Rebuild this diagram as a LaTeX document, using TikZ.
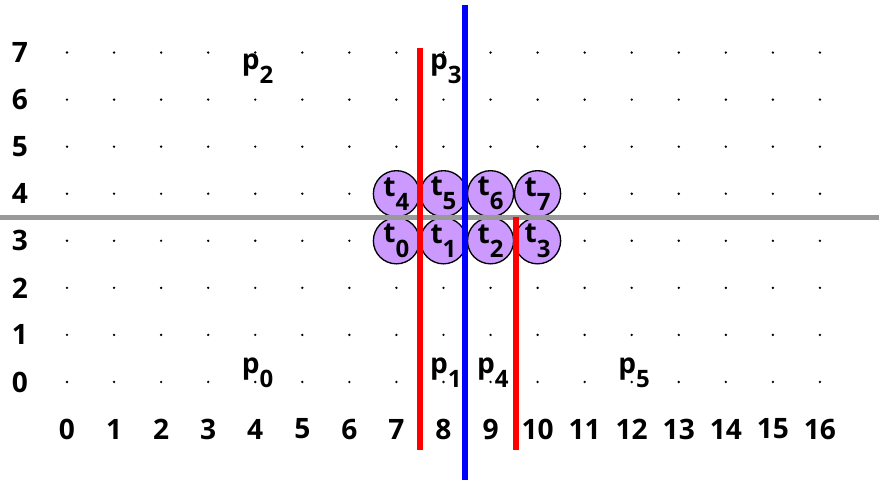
\documentclass[tikz,border=0pt]{standalone}
\usepackage{fontspec}
\setmainfont{Open Sans}
\definecolor{cellfill}{RGB}{204,153,255}
\definecolor{cutgray}{RGB}{153,153,153}
\newcommand{\lowsub}[1]{\raisebox{-0.5em}{\fontsize{14.5}{16}\selectfont #1}}
\begin{document}
\begin{tikzpicture}[x=1cm, y=1cm, every node/.style={font=\fontsize{17}{20}\selectfont\bfseries},
  cell/.style={circle,draw,line width=0.8pt,fill=cellfill,minimum size=0.98cm,inner sep=0pt},
  lbl/.style={inner sep=0pt},
  cut/.style={line width=3.6pt}]
  \useasboundingbox (-1.424,-2.083) rectangle (17.255,8.117);
  % grid of points
  \foreach \i in {0,...,16} \foreach \j in {0,...,7} \fill (\i,\j) circle (0.8pt);
  \foreach \i in {0,...,16} \node[lbl] (x\i) at (\i,-1) {\i};
  \foreach \j in {0,...,7} \node[lbl] (y\j) at (-1,\j) {\j};
  % cells
  \node[cell] (t0) at (7,3) {t\lowsub{0}};
  \node[cell] (t1) at (8,3) {t\lowsub{1}};
  \node[cell] (t2) at (9,3) {t\lowsub{2}};
  \node[cell] (t3) at (10,3) {t\lowsub{3}};
  \node[cell] (t4) at (7,4) {t\lowsub{4}};
  \node[cell] (t5) at (8,4) {t\lowsub{5}};
  \node[cell] (t6) at (9,4) {t\lowsub{6}};
  \node[cell] (t7) at (10,4) {t\lowsub{7}};
  % point labels
  \node[lbl] (p0) at (4.05,0.2) {p\lowsub{0}};
  \node[lbl] (p1) at (8.05,0.2) {p\lowsub{1}};
  \node[lbl] (p2) at (4.05,6.65) {p\lowsub{2}};
  \node[lbl] (p3) at (8.05,6.65) {p\lowsub{3}};
  \node[lbl] (p4) at (9.05,0.2) {p\lowsub{4}};
  \node[lbl] (p5) at (12.05,0.2) {p\lowsub{5}};
  % cuts
  \coordinate (hl) at (-1.424,3.5); \coordinate (hr) at (17.255,3.5);
  \coordinate (ra) at (7.5,7.1); \coordinate (rb) at (7.5,-1.45);
  \coordinate (rc) at (9.55,3.5); \coordinate (rd) at (9.55,-1.45);
  \coordinate (ba) at (8.45,8.02); \coordinate (bb) at (8.45,-2.083);
  \draw[cut,cutgray,line width=3pt] (hl) -- (hr);
  \draw[cut,red] (ra) -- (rb); \draw[cut,red] (rc) -- (rd);
  \draw[cut,blue] (ba) -- (bb);
\end{tikzpicture}
\end{document}
